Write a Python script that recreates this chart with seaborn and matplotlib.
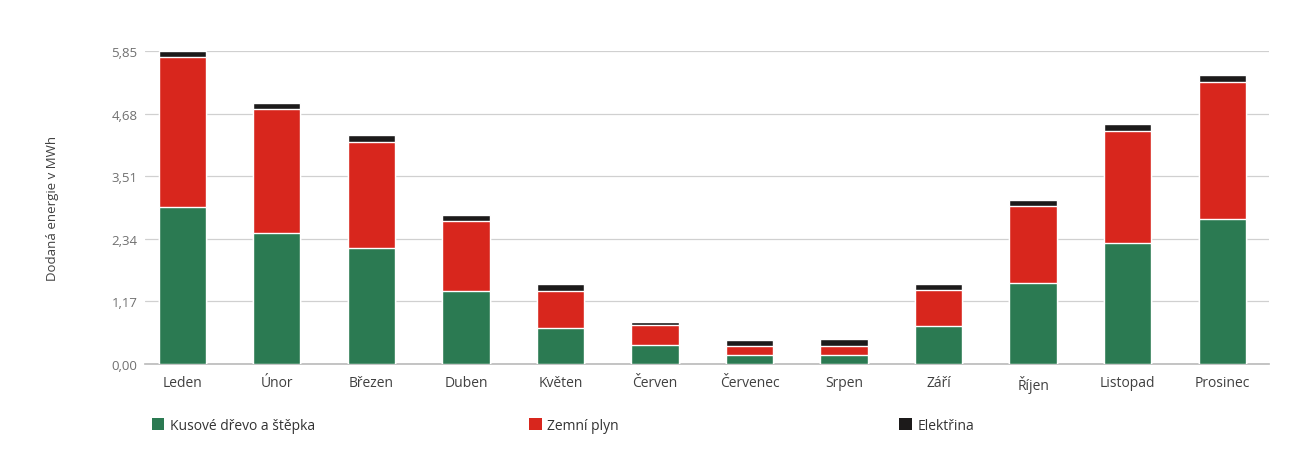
import numpy as np
import pandas as pd
import matplotlib
matplotlib.use("Agg")
import matplotlib.pyplot as plt
import seaborn as sns
from matplotlib.patches import Patch

months = ["Leden", "Únor", "Březen", "Duben", "Květen", "Červen",
          "Červenec", "Srpen", "Září", "Říjen", "Listopad", "Prosinec"]
drevo = [2.93, 2.45, 2.17, 1.36, 0.67, 0.36, 0.17, 0.17, 0.71, 1.51, 2.26, 2.71]
plyn = [2.81, 2.32, 1.98, 1.31, 0.69, 0.36, 0.16, 0.17, 0.67, 1.44, 2.09, 2.56]
elektrina = [0.11, 0.11, 0.13, 0.12, 0.13, 0.07, 0.12, 0.12, 0.11, 0.11, 0.13, 0.13]
yticks = [0.0, 1.17, 2.34, 3.51, 4.68, 5.85]

series_names = ["Kusové dřevo a štěpka", "Zemní plyn", "Elektřina"]
colors = ["#2b7a52", "#d8261d", "#1c1a1a"]

df = pd.DataFrame({"mesic": months, "drevo": drevo, "plyn": plyn, "elektrina": elektrina})
df["l1"] = df["drevo"]
df["l2"] = df["drevo"] + df["plyn"]
df["l3"] = df["l2"] + df["elektrina"]

sns.set_theme(style="white")
plt.rcParams["font.family"] = ["Open Sans", "DejaVu Sans"]

fig = plt.figure(figsize=(13.02, 4.6), dpi=100)
ax = fig.add_axes([0.111, 0.207, 0.864, 0.68])

# stacked bars: draw cumulative layers from the top down
for col, c in zip(["l3", "l2", "l1"], colors[::-1]):
    sns.barplot(data=df, x="mesic", y=col, color=c, width=0.5,
                saturation=1, ax=ax, zorder=3)

ax.set_ylim(0, 5.85)
ax.set_yticks(yticks)
ax.set_yticklabels([f"{v:.2f}".replace(".", ",") for v in yticks])
ax.yaxis.grid(True, color="#d0d0d0", linewidth=0.9, zorder=0)
ax.set_axisbelow(True)
for s in ["top", "right", "left"]:
    ax.spines[s].set_visible(False)
ax.spines["bottom"].set_color("#bdbdbd")
ax.tick_params(axis="y", colors="#707070", labelsize=9.5, length=0, pad=5)
ax.tick_params(axis="x", colors="#404040", labelsize=10, length=0, pad=8)
ax.set_xlabel("")
ax.set_ylabel("Dodaná energie v MWh", color="#404040", fontsize=9.5, labelpad=38)
ax.set_xlim(-0.4, 11.5)

# legend entries spread along the bottom
for name, c, x in zip(series_names, colors, [0.107, 0.397, 0.681]):
    fig.legend([Patch(facecolor=c, edgecolor="none")], [name], loc="lower left",
               bbox_to_anchor=(x, 0.03), frameon=False, fontsize=10,
               handlelength=0.9, handleheight=0.9, handletextpad=0.4,
               labelcolor="#333333")

fig.savefig("out.png", dpi=100, facecolor="white")
